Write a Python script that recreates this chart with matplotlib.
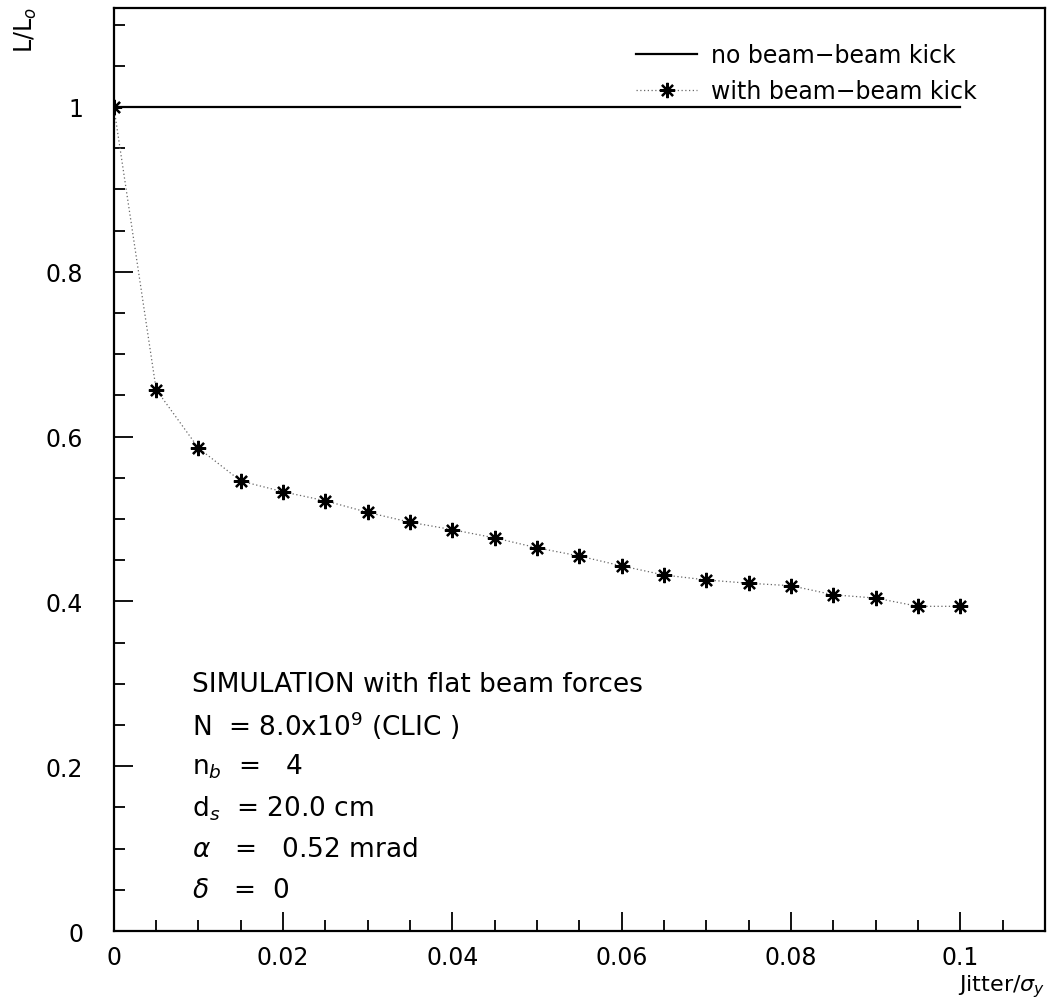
import matplotlib
matplotlib.use("Agg")
import matplotlib.pyplot as plt
from matplotlib.ticker import MultipleLocator, FormatStrFormatter

# jitter / sigma_y
jitter = [0.0, 0.005, 0.01, 0.015, 0.02, 0.025, 0.03, 0.035, 0.04, 0.045, 0.05,
          0.055, 0.06, 0.065, 0.07, 0.075, 0.08, 0.085, 0.09, 0.095, 0.1]
# L/L0 with beam-beam kick
lumi_kick = [1.0, 0.657, 0.586, 0.546, 0.533, 0.522, 0.508, 0.496, 0.487, 0.477, 0.465,
             0.455, 0.443, 0.432, 0.426, 0.422, 0.419, 0.408, 0.404, 0.394, 0.394]
# L/L0 without kick
nokick_x = [0.0, 0.1]
nokick_y = [1.0, 1.0]

info_lines = [
    "SIMULATION with flat beam forces",
    r"N  = 8.0x10$^{9}$ (CLIC )",
    r"n$_{b}$  =   4",
    r"d$_{s}$  = 20.0 cm",
    r"$\alpha$   =   0.52 mrad",
    r"$\delta$   =  0",
]
info_y = [0.30, 0.25, 0.20, 0.15, 0.10, 0.05]

plt.rcParams['font.family'] = ['DejaVu Sans']
plt.rcParams['mathtext.fontset'] = 'dejavusans'

fig = plt.figure(figsize=(10.54, 10.04), dpi=100)
ax = fig.add_axes([0.108, 0.0717, 0.8835, 0.9193])

ax.plot(nokick_x, nokick_y, color='black', lw=1.6, label='no beam\u2212beam kick')
ax.plot(jitter, lumi_kick, color='#666666', lw=0.9, ls=(0, (1, 2)),
        marker=(8, 2, 0), markersize=11, markeredgecolor='black',
        markeredgewidth=1.6, label='with beam\u2212beam kick')

ax.set_xlim(0, 0.11)
ax.set_ylim(0, 1.12)

ax.xaxis.set_major_locator(MultipleLocator(0.02))
ax.xaxis.set_minor_locator(MultipleLocator(0.005))
ax.yaxis.set_major_locator(MultipleLocator(0.2))
ax.yaxis.set_minor_locator(MultipleLocator(0.05))
ax.xaxis.set_major_formatter(FormatStrFormatter('%g'))
ax.yaxis.set_major_formatter(FormatStrFormatter('%g'))

ax.tick_params(which='both', direction='in', top=False, right=False, width=1.3,
               labelsize=17)
ax.tick_params(which='major', length=14)
ax.tick_params(which='minor', length=8)
ax.tick_params(axis='y', which='major', pad=22)
ax.tick_params(axis='x', which='major', pad=10)
for s in ax.spines.values():
    s.set_linewidth(1.6)

fig.text(0.992, 0.004, r"Jitter/$\sigma_{y}$", ha='right', va='bottom', fontsize=16)
fig.text(0.025, 0.993, r"L/L$_{o}$", rotation=90, ha='center', va='top', fontsize=17)

for txt, yy in zip(info_lines, info_y):
    ax.text(0.0092, yy, txt, fontsize=19, va='center', ha='left')

ax.legend(loc='upper right', bbox_to_anchor=(0.95, 0.985), frameon=False,
          fontsize=17, handlelength=2.6, handletextpad=0.6, labelspacing=0.5)

fig.savefig("out.png", dpi=100)
